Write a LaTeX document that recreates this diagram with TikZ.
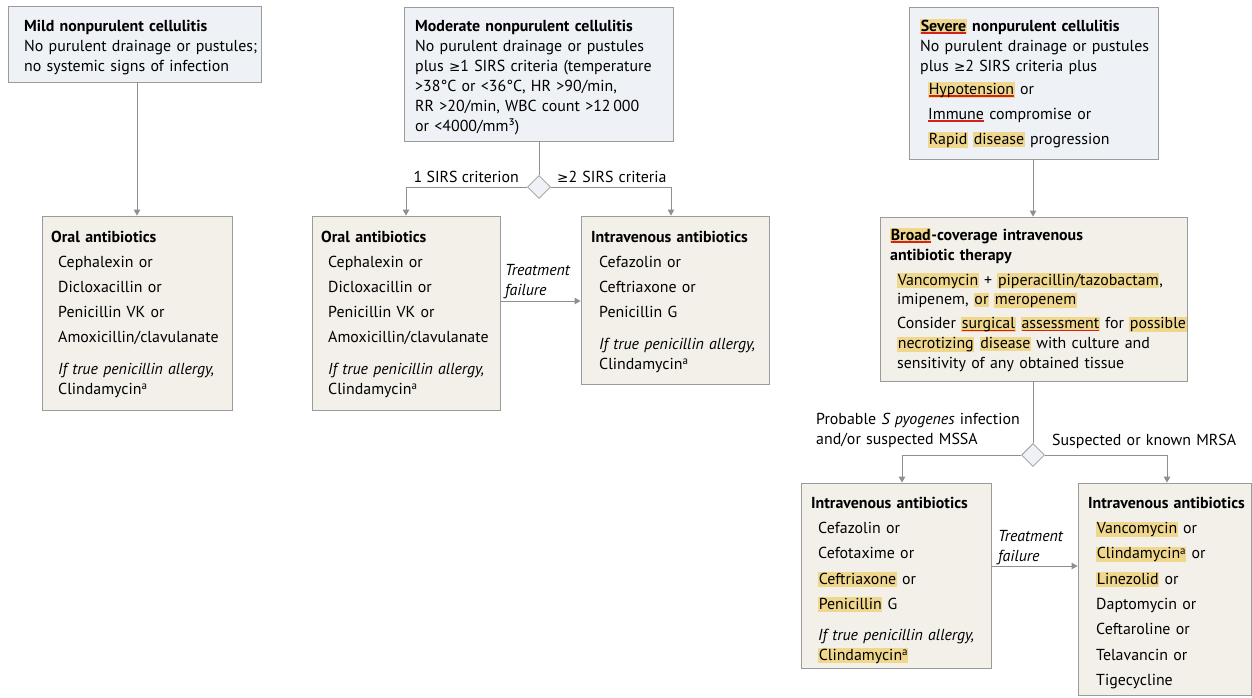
\documentclass[tikz,border=0pt]{standalone}
\usepackage{fontspec}
\setmainfont{PT Sans}
\newfontfamily\symf{DejaVu Sans}
\usetikzlibrary{arrows.meta,shapes.geometric}
\definecolor{topfill}{HTML}{EEF1F5}
\definecolor{botfill}{HTML}{F3F0EA}
\definecolor{bordc}{HTML}{9B9B9B}
\definecolor{linec}{HTML}{8F8F8F}
\definecolor{hly}{HTML}{F0D78E}
\definecolor{ulred}{HTML}{D3221B}
\newcommand\hl[1]{\leavevmode{\setlength{\fboxsep}{0pt}\colorbox{hly}{\kern0.6pt\rule[-2.5pt]{0pt}{14.5pt}#1\kern0.6pt}}}
\newcommand\rul[1]{\leavevmode\setbox0\hbox{#1}\rlap{\color{ulred}\rule[-2.8pt]{\wd0}{1.8pt}}\box0\relax}
\newcommand\supa{\raisebox{4.5pt}{\fontsize{11}{11}\selectfont a}}
\newcommand\geqs{{\symf\fontsize{13.5}{13.5}\selectfont ≥}}
\begin{document}
\begin{tikzpicture}[x=1pt,y=-1pt,
  topbox/.style={draw=bordc, fill=topfill, line width=0.8pt, inner sep=0},
  botbox/.style={draw=bordc, fill=botfill, line width=0.8pt, inner sep=0},
  txt/.style={anchor=base west, inner sep=0, text width=330pt, align=left, font=\fontsize{15.9}{20}\selectfont},
  itm/.style={txt, font=\fontsize{15.9}{25.3}\selectfont},
  ital/.style={txt, font=\fontsize{15.9}{20}\selectfont\itshape},
  ln/.style={draw=linec, line width=0.9pt},
  arr/.style={ln, -{Triangle[width=6.5pt,length=6pt]}},
  dia/.style={diamond, draw=bordc, fill=topfill, line width=0.8pt, minimum width=23pt, minimum height=23pt, inner sep=0}]
\useasboundingbox (0,0) rectangle (1252,698);
\fill[white] (0,0) rectangle (1252,698);
% ---------- boxes
\node[topbox, minimum width=253pt, minimum height=76pt] (mild) at (134.5,44) {};
\node[botbox, minimum width=190pt, minimum height=194pt] (oralA) at (137,313) {};
\node[topbox, minimum width=269pt, minimum height=134pt] (mod) at (538.5,74) {};
\node[botbox, minimum width=188pt, minimum height=194pt] (oralB) at (406,313) {};
\node[botbox, minimum width=188pt, minimum height=168pt] (ivM) at (675,300) {};
\node[topbox, minimum width=249pt, minimum height=152pt] (sev) at (1033.5,83) {};
\node[botbox, minimum width=307pt, minimum height=164pt] (broad) at (1033.5,299) {};
\node[botbox, minimum width=190pt, minimum height=185pt] (ivA) at (896,575.5) {};
\node[botbox, minimum width=173pt, minimum height=212pt] (ivB) at (1164.5,589) {};
% ---------- texts
\node[txt] (mildT) at (24,31.5) {\textbf{Mild nonpurulent cellulitis}\\No purulent drainage or pustules;\\no systemic signs of infection};
\node[txt] (oralAT) at (51,242) {\textbf{Oral antibiotics}};
\node[itm] (oralAL) at (58,267) {Cephalexin or\\Dicloxacillin or\\Penicillin VK or\\Amoxicillin/clavulanate};
\node[ital] (oralAA) at (58,374) {If true penicillin allergy,\\\upshape Clindamycin\supa};
\node[txt] (modT) at (415,31.5) {\textbf{Moderate nonpurulent cellulitis}\\No purulent drainage or pustules\\plus \geqs1 SIRS criteria (temperature\\>38°C or <36°C, HR >90/min,\\RR >20/min, WBC count >12\,000\\or <4000/mm³)};
\node[txt] (oralBT) at (321,242) {\textbf{Oral antibiotics}};
\node[itm] (oralBL) at (328,267) {Cephalexin or\\Dicloxacillin or\\Penicillin VK or\\Amoxicillin/clavulanate};
\node[ital] (oralBA) at (328,374) {If true penicillin allergy,\\\upshape Clindamycin\supa};
\node[txt] (ivMT) at (591,242) {\textbf{Intravenous antibiotics}};
\node[itm] (ivML) at (599,267) {Cefazolin or\\Ceftriaxone or\\Penicillin G};
\node[ital] (ivMA) at (599,349) {If true penicillin allergy,\\\upshape Clindamycin\supa};
\node[txt] (sevT) at (920,31.5) {\textbf{\hl{\rul{Severe}} nonpurulent cellulitis}\\No purulent drainage or pustules\\plus \geqs2 SIRS criteria plus};
\node[itm, font=\fontsize{15.9}{25}\selectfont] (sevL) at (928,94.5) {\hl{\rul{Hypotension}} or\\\rul{Immune} compromise or\\\hl{Rapid} \hl{disease} progression};
\node[txt] (broadT) at (890,240) {\textbf{\hl{\rul{Broad}}-coverage intravenous}\\\textbf{antibiotic therapy}};
\node[txt, font=\fontsize{15.9}{19.5}\selectfont] (broadL) at (897,285) {\hl{Vancomycin} + \hl{piperacillin/tazobactam},\\imipenem, \hl{or} \hl{meropenem}};
\node[txt] (broadS) at (897,328.5) {Consider \hl{\rul{surgical}} \hl{\rul{assessment}} for \hl{possible}\\\hl{necrotizing} \hl{disease} with culture and\\sensitivity of any obtained tissue};
\node[txt] (ivAT) at (811,508) {\textbf{Intravenous antibiotics}};
\node[itm] (ivAL) at (818,533.5) {Cefazolin or\\Cefotaxime or\\\hl{Ceftriaxone} or\\\hl{Penicillin} G};
\node[ital] (ivAA) at (818,640) {If true penicillin allergy,\\\upshape\hl{Clindamycin\supa}};
\node[txt] (ivBT) at (1088,508) {\textbf{Intravenous antibiotics}};
\node[itm] (ivBL) at (1096,533.5) {\hl{Vancomycin} or\\\hl{Clindamycin\supa} or\\\hl{Linezolid} or\\Daptomycin or\\Ceftaroline or\\Telavancin or\\Tigecycline};
% ---------- decision diamonds
\node[dia] (d1) at (539,187) {};
\node[dia] (d2) at (1033,455) {};
% ---------- labels
\node[txt, anchor=base east, text width=] (l1) at (519,182.5) {1 SIRS criterion};
\node[txt] (l2) at (557,182.5) {\geqs2 SIRS criteria};
\node[ital] (tf1l) at (505,275) {Treatment\\failure};
\node[txt] (l3) at (816,424) {Probable \textit{S pyogenes} infection\\and/or suspected MSSA};
\node[txt] (l4) at (1052,445) {Suspected or known MRSA};
\node[ital] (tf2l) at (998,541) {Treatment\\failure};
% ---------- connectors
\coordinate (tf1) at (540,301);
\coordinate (tf2) at (1034,566);
\draw[arr] (mild.south -| oralA.north) -- (oralA.north);
\draw[ln] (mod.south -| d1.north) -- (d1.north);
\draw[arr] (d1.west) -| (oralB.north);
\draw[arr] (d1.east) -| ([xshift=-4pt]ivM.north);
\draw[arr] (tf1 -| oralB.east) -- (tf1 -| ivM.west);
\draw[arr] (sev.south -| d2.north) -- (broad.north -| d2.north);
\draw[ln] (broad.south -| d2.north) -- (d2.north);
\draw[arr] (d2.west) -| ([xshift=6pt]ivA.north);
\draw[arr] (d2.east) -| ([xshift=2.5pt]ivB.north);
\draw[arr] (tf2 -| ivA.east) -- (tf2 -| ivB.west);
\end{tikzpicture}
\end{document}
